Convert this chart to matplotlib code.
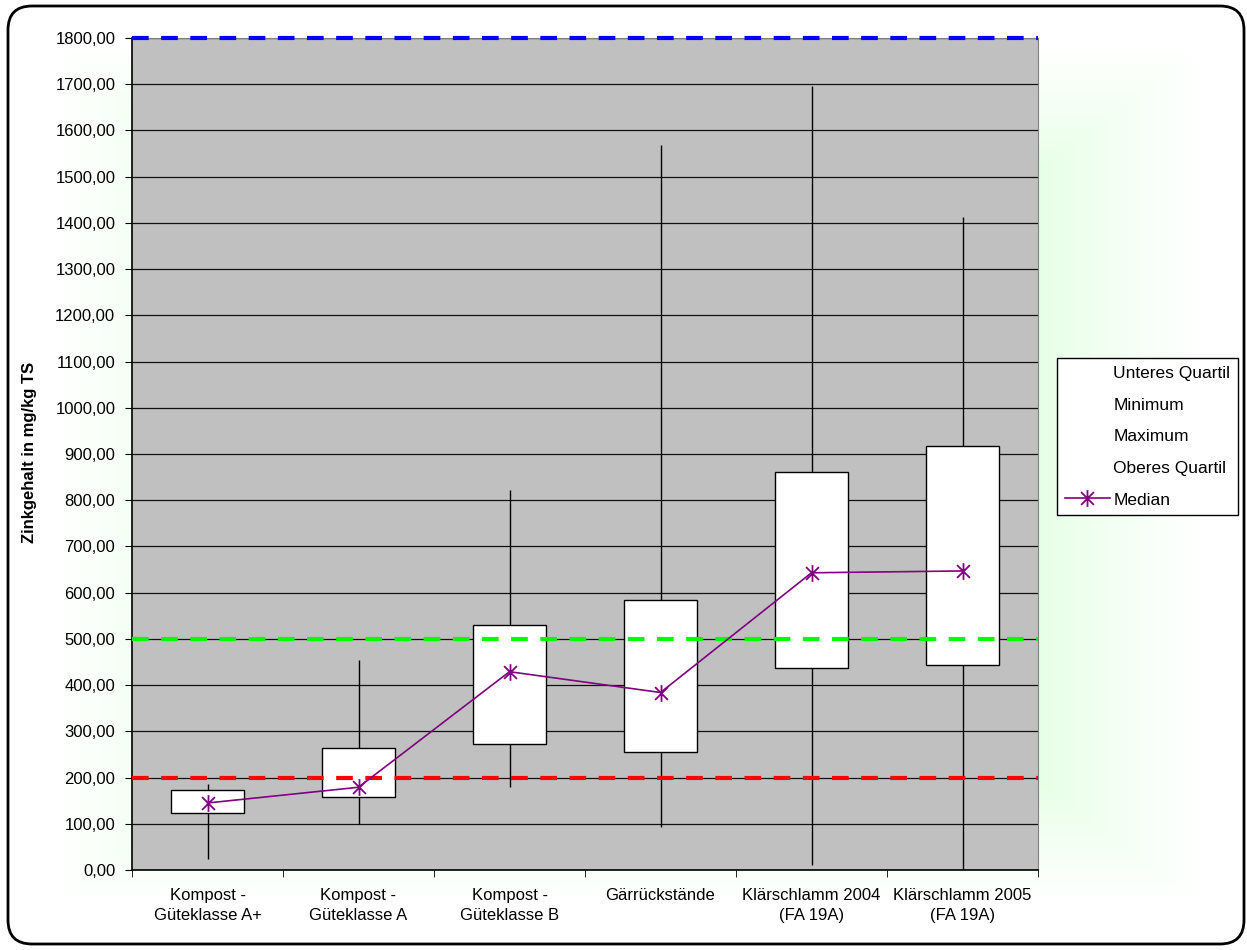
import numpy as np
import matplotlib
matplotlib.use('Agg')
import matplotlib.pyplot as plt
from matplotlib.lines import Line2D
from matplotlib.patches import FancyBboxPatch
from matplotlib.path import Path
from matplotlib.ticker import FuncFormatter, MultipleLocator

# values (mg/kg TS)
categories = ['Kompost -\nGüteklasse A+', 'Kompost -\nGüteklasse A', 'Kompost -\nGüteklasse B',
              'Gärrückstände', 'Klärschlamm 2004\n(FA 19A)', 'Klärschlamm 2005\n(FA 19A)']
minimum = [23, 99, 180, 93, 11, 2]
lower_q = [124, 159, 272, 255, 437, 444]
median = [145, 179, 429, 384, 643, 647]
upper_q = [173, 265, 531, 584, 862, 918]
maximum = [187, 454, 823, 1569, 1697, 1413]
limits = [200, 500, 1800]
limit_colors = ['#FF0000', '#00FF00', '#0000FF']

plt.rcParams['font.family'] = ['Liberation Sans', 'DejaVu Sans']

# Excel-style star marker: X plus a vertical stroke
star = Path([(-1, -1), (1, 1), (-1, 1), (1, -1), (0, -1.3), (0, 1.3)],
            [Path.MOVETO, Path.LINETO, Path.MOVETO, Path.LINETO, Path.MOVETO, Path.LINETO])

W, H = 1247, 950
fig = plt.figure(figsize=(W / 100, H / 100), dpi=100)

# background: pale green glow fading to white, rounded black frame
bg = fig.add_axes([0, 0, 1, 1], zorder=-5)
yy, xx = np.mgrid[0:H, 0:W]
t = np.maximum(np.abs(xx - 625) / 605.0, np.abs(yy - 475) / 455.0)
f = np.clip((t - 0.62) / 0.33, 0, 1) ** 0.8
green = np.array([0.87, 1.0, 0.87])
img = green[None, None, :] * (1 - f[..., None]) + f[..., None]
bg.imshow(img, extent=(8, W - 3, H - 6, 6), aspect='auto', zorder=0)
frame = FancyBboxPatch((8, 6), W - 11, H - 12, boxstyle='round,pad=0,rounding_size=24',
                       facecolor='none', edgecolor='black', linewidth=2, zorder=2)
bg.add_patch(frame)
bg.set_xlim(0, W)
bg.set_ylim(H, 0)
bg.axis('off')

ax = fig.add_axes([132 / W, 1 - 870 / H, (1038 - 132) / W, (870 - 38) / H])
ax.set_facecolor('#C0C0C0')
x = np.arange(len(categories))

ax.set_ylim(0, 1800)
ax.set_xlim(-0.5, len(categories) - 0.5)
ax.yaxis.set_major_locator(MultipleLocator(100))
ax.yaxis.set_major_formatter(FuncFormatter(lambda v, p: f'{v:.2f}'.replace('.', ',')))
ax.grid(axis='y', color='#111111', linewidth=0.9, zorder=0)
ax.set_axisbelow(True)

ax.vlines(x, minimum, maximum, color='black', linewidth=1.0, zorder=2)
ax.bar(x, np.array(upper_q) - np.array(lower_q), bottom=lower_q, width=0.49,
       color='white', edgecolor='black', linewidth=1.0, zorder=3)

for lv, c in zip(limits, limit_colors):
    ax.axhline(lv, color=c, linewidth=3, dashes=(4, 3), dash_capstyle='butt',
               zorder=4, clip_on=False)

ax.plot(x, median, color='#800080', linewidth=1.2, marker=star,
        markersize=12, markeredgewidth=1.3, zorder=5)

ax.set_xticks(x)
ax.set_xticklabels(categories, fontsize=12, linespacing=1.45)
ax.set_xticks(np.arange(len(categories) + 1) - 0.5, minor=True)
ax.tick_params(axis='x', which='major', length=0, pad=13)
ax.tick_params(axis='x', which='minor', length=5, direction='out', color='black')
ax.tick_params(axis='y', length=5, direction='out', labelsize=12, pad=7)
for side in ['top', 'right']:
    ax.spines[side].set_color('#808080')
ax.spines['left'].set_color('black')
ax.spines['bottom'].set_color('black')
ax.spines['left'].set_linewidth(1.2)
ax.spines['bottom'].set_linewidth(1.2)

fig.text(30 / W, 1 - 452 / H, 'Zinkgehalt in mg/kg TS', rotation=90, fontsize=12,
         fontweight='bold', ha='center', va='center')

blank = Line2D([], [], linestyle='none', marker=None)
handles = [blank, blank, blank, blank,
           Line2D([], [], color='#800080', linewidth=1.2, marker=star,
                  markersize=12, markeredgewidth=1.3)]
labels = ['Unteres Quartil', 'Minimum', 'Maximum', 'Oberes Quartil', 'Median']
leg = fig.legend(handles, labels, loc='upper left', bbox_to_anchor=(1057 / W, 1 - 358 / H),
                 bbox_transform=fig.transFigure, borderaxespad=0, fontsize=12.5,
                 frameon=True, fancybox=False, edgecolor='black', framealpha=1,
                 handlelength=2.6, handletextpad=0.2, labelspacing=0.95, borderpad=0.45)
leg.get_frame().set_linewidth(1)

fig.savefig('out.png', dpi=100)
